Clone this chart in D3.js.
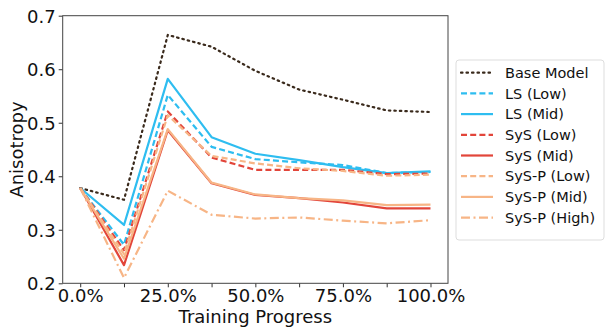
<!DOCTYPE html>
<html><head><meta charset="utf-8">
<script src="https://cdn.jsdelivr.net/npm/d3@7"></script>
<style>body{margin:0;background:#fff}svg{display:block}text{font-family:"DejaVu Sans",sans-serif}</style>
</head><body><svg id="c" width="606" height="328"></svg>
<script>
const progress = [0, 12.5, 25, 37.5, 50, 62.5, 75, 87.5, 100];
const xTickLabels = ["0.0%", "25.0%", "50.0%", "75.0%", "100.0%"];
const yTicks = [0.2, 0.3, 0.4, 0.5, 0.6, 0.7];
const seriesNames = ["Base Model", "LS (Low)", "LS (Mid)", "SyS (Low)", "SyS (Mid)", "SyS-P (Low)", "SyS-P (Mid)", "SyS-P (High)"];
const baseModel = [0.378, 0.356, 0.664, 0.642, 0.597, 0.562, 0.543, 0.523, 0.520];
const lsLow     = [0.378, 0.272, 0.552, 0.455, 0.432, 0.426, 0.421, 0.406, 0.408];
const lsMid     = [0.378, 0.309, 0.582, 0.473, 0.442, 0.430, 0.417, 0.406, 0.409];
const sysLow    = [0.378, 0.262, 0.521, 0.435, 0.412, 0.412, 0.412, 0.404, 0.405];
const sysMid    = [0.378, 0.234, 0.486, 0.387, 0.365, 0.359, 0.351, 0.340, 0.340];
const syspLow   = [0.378, 0.255, 0.514, 0.438, 0.424, 0.415, 0.410, 0.401, 0.403];
const syspMid   = [0.378, 0.246, 0.488, 0.388, 0.366, 0.359, 0.355, 0.346, 0.347];
const syspHigh  = [0.378, 0.210, 0.373, 0.328, 0.321, 0.323, 0.317, 0.312, 0.318];

const values = [baseModel, lsLow, lsMid, sysLow, sysMid, syspLow, syspMid, syspHigh];
const colors = ["#3a2a1c", "#2ebdf0", "#2ebdf0", "#e2453a", "#e2453a", "#f7b586", "#f7b586", "#f7b586"];
const dashes = ["1.5,4", "6,3.2", null, "6,3.2", null, "6,3.2", null, "9,3.5,2,3.5"];
const caps = ["round", "butt", "butt", "butt", "butt", "butt", "butt", "butt"];

const svg = d3.select("#c");
const L = 62.7, R = 448, T = 15.7, B = 283.3;
const x = d3.scaleLinear().domain([-5, 105]).range([L, R]);
const y = d3.scaleLinear().domain([0.2, 0.7]).range([B, T]);

const xAxis = d3.axisBottom(x).tickValues(progress).tickSize(4).tickPadding(2)
  .tickFormat((d, i) => i % 2 === 0 ? xTickLabels[i / 2] : "");
const gx = svg.append("g").attr("transform", `translate(0,${B})`).call(xAxis);
gx.select(".domain").remove();
gx.selectAll("line").attr("stroke", "#333");
gx.selectAll("text").attr("font-size", 18).attr("fill", "#111").attr("dy", "0.7em");

const yAxis = d3.axisLeft(y).tickValues(yTicks).tickSize(4).tickPadding(3).tickFormat(d3.format(".1f"));
const gy = svg.append("g").attr("transform", `translate(${L},0)`).call(yAxis);
gy.select(".domain").remove();
gy.selectAll("line").attr("stroke", "#333");
gy.selectAll("text").attr("font-size", 18).attr("fill", "#111").attr("dy", "0.35em");

svg.append("rect").attr("x", L).attr("y", T).attr("width", R - L).attr("height", B - T)
  .attr("fill", "none").attr("stroke", "#444").attr("stroke-width", 1);

const line = d3.line().x((d, i) => x(progress[i])).y(d => y(d));
values.forEach((v, k) => {
  svg.append("path").datum(v).attr("d", line)
    .attr("fill", "none").attr("stroke", colors[k]).attr("stroke-width", 2.2)
    .attr("stroke-dasharray", dashes[k]).attr("stroke-linecap", caps[k])
    .attr("stroke-linejoin", "round");
});

svg.append("text").attr("x", (L + R) / 2).attr("y", 322.5).attr("text-anchor", "middle")
  .attr("font-size", 18).attr("fill", "#111").text("Training Progress");
svg.append("text").attr("transform", `translate(23,${(T + B) / 2}) rotate(-90)`)
  .attr("text-anchor", "middle").attr("font-size", 18).attr("fill", "#111").text("Anisotropy");

const lg = svg.append("g");
lg.append("rect").attr("x", 456).attr("y", 60).attr("width", 148).attr("height", 180).attr("rx", 3)
  .attr("fill", "#fff").attr("stroke", "#ddd");
seriesNames.forEach((n, k) => {
  const yy = 72.7 + k * 20.7;
  lg.append("line").attr("x1", 461).attr("x2", 493).attr("y1", yy).attr("y2", yy)
    .attr("stroke", colors[k]).attr("stroke-width", 2.2).attr("stroke-dasharray", dashes[k])
    .attr("stroke-linecap", caps[k]);
  lg.append("text").attr("x", 505).attr("y", yy).attr("dy", "0.36em").attr("font-size", 14.5)
    .attr("fill", "#111").text(n);
});
</script></body></html>
